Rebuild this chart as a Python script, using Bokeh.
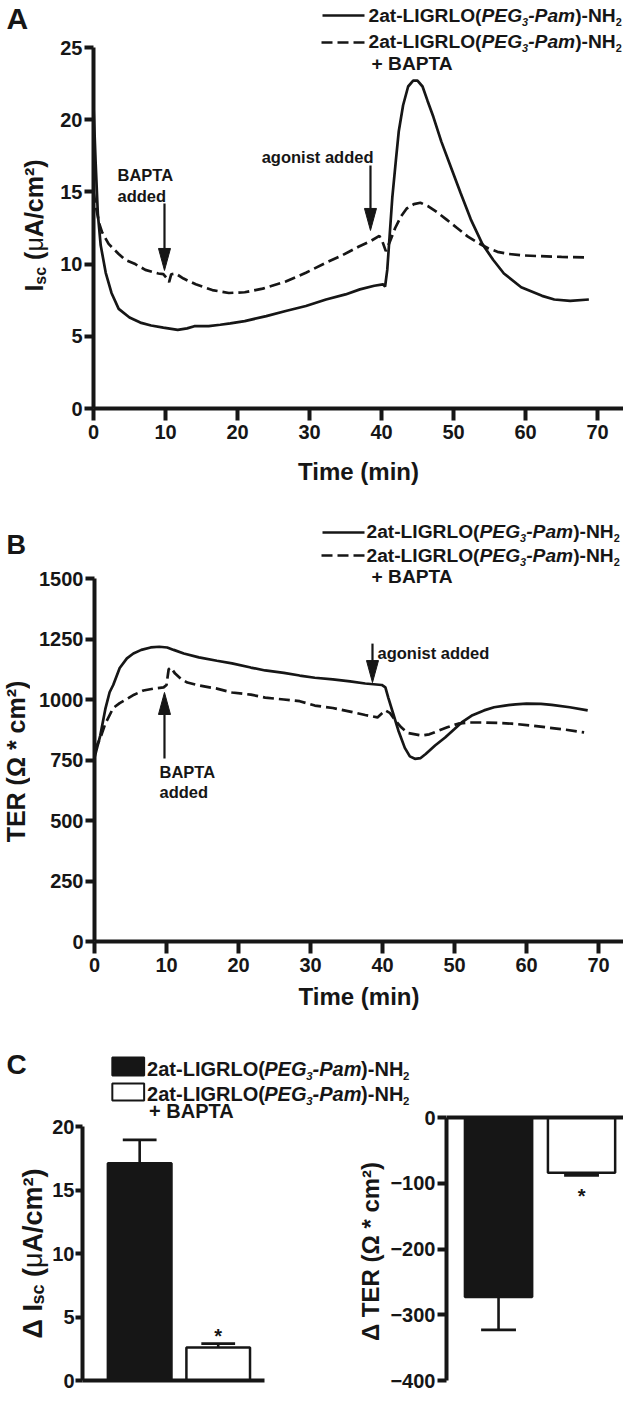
import math
from bokeh.plotting import figure
from bokeh.layouts import column, row
from bokeh.models import Label, FixedTicker
from bokeh.embed import file_html
from bokeh.resources import INLINE

# ---------------- data ----------------
time_ticks = [0, 10, 20, 30, 40, 50, 60, 70]
isc_ticks = [0, 5, 10, 15, 20, 25]
ter_ticks = [0, 250, 500, 750, 1000, 1250, 1500]
d_isc_ticks = [0, 5, 10, 15, 20]
d_ter_ticks = [0, -100, -200, -300, -400]

# Panel A: Isc (uA/cm2) vs time (min)
a_t_ctrl = [0.0, 0.3, 0.6, 1.0, 1.7, 2.5, 3.5, 5.0, 6.5, 8.0, 9.7, 11.7, 13.0, 14.0, 16.0,
            17.6, 19.0, 21.0, 24.0, 26.7, 29.5, 32.3, 35.0, 37.0, 39.0, 40.2, 40.5, 40.8,
            41.5, 42.0, 42.4, 43.0, 43.7, 44.4, 45.0, 45.7, 46.4, 47.2, 48.3, 49.5, 51.0,
            52.4, 54.0, 55.5, 57.0, 59.4, 62.3, 64.0, 66.2, 68.8]
a_isc_ctrl = [21.0, 17.0, 13.5, 11.3, 9.4, 8.0, 6.9, 6.3, 5.95, 5.75, 5.6, 5.45, 5.55, 5.7, 5.7,
              5.8, 5.9, 6.05, 6.4, 6.75, 7.1, 7.55, 7.9, 8.25, 8.5, 8.6, 8.45, 9.6,
              14.6, 17.2, 19.2, 21.0, 22.3, 22.7, 22.7, 22.3, 21.3, 20.2, 18.5, 16.9, 14.9,
              13.1, 11.4, 10.3, 9.35, 8.4, 7.8, 7.55, 7.45, 7.55]
a_t_bapta = [0.0, 0.4, 0.8, 1.2, 2.1, 3.5, 4.4, 5.8, 7.2, 9.0, 9.7, 10.2, 10.5, 10.8, 11.4,
             12.5, 14.2, 16.5, 18.8, 21.0, 23.5, 26.7, 29.5, 32.3, 34.5, 36.8, 38.5, 39.7,
             40.1, 40.6, 41.2, 41.9, 42.7, 43.5, 44.5, 45.4, 46.5, 47.7, 49.0, 50.5, 52.0,
             53.3, 54.8, 56.1, 57.7, 59.7, 62.0, 65.0, 68.8]
a_isc_bapta = [15.0, 13.8, 12.8, 12.2, 11.4, 10.7, 10.3, 10.0, 9.6, 9.35, 9.3, 9.0, 8.75, 9.3, 9.35,
               9.0, 8.6, 8.2, 8.0, 8.05, 8.3, 8.8, 9.4, 10.1, 10.6, 11.2, 11.6, 11.95,
               11.6, 10.9, 11.6, 12.5, 13.3, 13.85, 14.15, 14.25, 14.0, 13.6, 13.1, 12.5, 11.9,
               11.5, 11.1, 10.85, 10.7, 10.6, 10.55, 10.5, 10.45]

# Panel B: TER (Ohm*cm2) vs time (min)
b_t_ctrl = [0.0, 0.8, 1.5, 2.1, 2.6, 3.5, 4.5, 5.4, 6.5, 7.8, 9.0, 10.1, 11.0, 12.4, 14.5,
            17.0, 19.1, 21.7, 23.7, 26.3, 28.5, 30.6, 33.1, 35.5, 37.6, 39.9, 40.4, 40.8,
            41.5, 42.2, 43.1, 43.8, 44.5, 45.3, 46.0, 47.3, 48.7, 50.0, 51.0, 52.5, 54.1,
            55.5, 57.0, 58.5, 60.0, 62.0, 63.5, 66.0, 68.5]
b_ter_ctrl = [760, 851, 960, 1030, 1060, 1130, 1170, 1190, 1205, 1215, 1218, 1215, 1205, 1190, 1174,
              1160, 1149, 1132, 1120, 1110, 1099, 1090, 1083, 1075, 1066, 1060, 1050, 1008,
              940, 872, 800, 765, 755, 758, 775, 810, 843, 878, 905, 935, 955,
              968, 975, 980, 983, 982, 978, 968, 955]
b_t_bapta = [0.0, 0.8, 1.5, 2.6, 3.5, 4.6, 5.5, 6.8, 8.2, 9.6, 10.0, 10.3, 10.6, 11.2, 12.0,
             12.9, 14.5, 17.0, 19.1, 21.7, 23.7, 26.3, 28.5, 30.6, 33.1, 35.5, 37.6, 39.3,
             40.4, 41.0, 41.8, 42.6, 43.5, 45.4, 46.5, 47.7, 49.0, 50.5, 52.0, 54.0, 56.0,
             58.0, 60.5, 63.0, 65.5, 68.0]
b_ter_bapta = [790, 840, 900, 965, 985, 1004, 1020, 1037, 1045, 1050, 1060, 1125, 1132, 1107, 1085,
               1070, 1058, 1045, 1029, 1020, 1008, 1000, 993, 975, 965, 950, 936, 926,
               955, 945, 913, 885, 862, 851, 856, 870, 885, 900, 905, 905, 903,
               900, 893, 884, 875, 864]

# Panel C: mean change (+ SEM)
c_pos = [1, 2]
c_d_isc = [17.1, 2.6]
c_d_isc_sem = [1.85, 0.3]
c_d_ter = [-273.0, -84.0]
c_d_ter_sem = [50.0, 4.0]

# ---------------- styling helpers ----------------
FONT = "Liberation Sans"
INK = "#161616"

W = {' ': 278, '(': 333, ')': 333, '*': 389, '+': 584, '-': 333, '/': 278, 'A': 722, 'B': 722,
     'C': 722, 'E': 667, 'G': 778, 'H': 722, 'I': 278, 'L': 611, 'N': 722, 'O': 778, 'P': 667,
     'R': 722, 'T': 611, 'a': 556, 'c': 556, 'd': 611, 'e': 556, 'g': 611, 'i': 278, 'm': 889,
     'n': 611, 'o': 611, 's': 556, 't': 333, '\u00b2': 333, '\u03bc': 576, '\u0394': 700}
for _d in "0123456789":
    W[_d] = 556


def text_w(s, size):
    return sum(W.get(c, 600) for c in s) * size / 1000.0


def put_text(p, fx, fy, px, py, parts, angle=0.0):
    """Run of text pieces; (px, py) = start of the run at the visual centre of the capitals."""
    adv = 0.0
    for txt, size, style, shift in parts:
        core = txt.lstrip(" ")
        adv += text_w(txt[:len(txt) - len(core)], size)   # leading blanks only advance
        if angle == 0.0:
            x, y = px + adv, py + shift
        else:
            x, y = px + shift, py - adv
        p.add_layout(Label(x=fx(x), y=fy(y), text=core, angle=angle, text_align="left",
                           text_baseline="middle", text_font=FONT,
                           text_font_size="%.1fpx" % size, text_font_style=style,
                           text_color=INK))
        adv += text_w(core, size)
    return adv


def legend_parts(f):
    s = 0.57 * f
    d = 0.34 * f
    return [("2at-LIGRLO(", f, "bold", 0), ("PEG", f, "bold italic", 0),
            ("3", s, "bold italic", d), ("-Pam", f, "bold italic", 0),
            (")-NH", f, "bold", 0), ("2", s, "bold", d)]


def make_fig(canvas, frame, fx, fy, axes=True, **kw):
    cl, ct, cw, ch = canvas
    fl, ft, fr, fb = frame
    extra = {} if axes else dict(x_axis_location=None, y_axis_location=None)
    extra.update(kw)
    p = figure(width=cw, height=ch, title=None,
               x_range=(fx(fl), fx(fr)), y_range=(fy(fb), fy(ft)),
               min_border_left=fl - cl, min_border_right=cl + cw - fr,
               min_border_top=ft - ct, min_border_bottom=ct + ch - fb,
               output_backend="svg", toolbar_location=None, tools="", **extra)
    p.outline_line_color = None
    p.xgrid.visible = False
    p.ygrid.visible = False
    p.background_fill_color = "white"
    p.border_fill_color = "white"
    return p


def style_axis(ax, ticks, bounds, tick_out, standoff):
    ax.ticker = FixedTicker(ticks=ticks)
    ax.bounds = bounds
    ax.axis_line_width = 4
    ax.axis_line_color = INK
    ax.major_tick_line_width = 4
    ax.major_tick_line_color = INK
    ax.major_tick_in = 0
    ax.major_tick_out = tick_out
    ax.minor_tick_line_color = None
    ax.major_label_text_font = FONT
    ax.major_label_text_font_style = "bold"
    ax.major_label_text_font_size = "20px"
    ax.major_label_text_color = INK
    ax.major_label_standoff = standoff


def axis_title(ax, text, size, standoff):
    ax.axis_label = text
    ax.axis_label_text_font = FONT
    ax.axis_label_text_font_style = "bold"
    ax.axis_label_text_font_size = size
    ax.axis_label_text_color = INK
    ax.axis_label_standoff = standoff


def draw_arrow(p, x, y_from, y_to, sx, sy):
    direction = 1.0 if y_to > y_from else -1.0
    hl = 22.0 / sy
    hw = 6.0 / sx
    base = y_to - direction * hl
    p.segment(x0=[x], y0=[y_from], x1=[x], y1=[base], line_width=2.2, line_color=INK)
    p.patch(x=[x - hw, x, x + hw], y=[base, y_to, base], fill_color=INK, line_color=INK,
            line_width=1)


def plain(p, x, y, txt, size, align="left", angle=0.0):
    p.add_layout(Label(x=x, y=y, text=txt, text_align=align, text_baseline="middle",
                       angle=angle, text_font=FONT, text_font_size=size,
                       text_font_style="bold", text_color=INK))


ident = lambda v: v

# ---------------- Panel A ----------------
A_SX, A_SY = 7.2, 14.44
ax_ = lambda px: (px - 93) / A_SX
ay_ = lambda py: (408 - py) / A_SY
sa = make_fig((0, 0, 50, 490), (0, 0, 50, 408), ident, ident, axes=False)
pa = make_fig((50, 0, 573, 490), (93, 0, 623, 408), ax_, ay_)
style_axis(pa.xaxis[0], time_ticks, (0, ax_(623)), 12, 4)
style_axis(pa.yaxis[0], isc_ticks, (0, 25), 9, 2)
axis_title(pa.xaxis[0], "Time (min)", "24px", 16)
pa.line(a_t_ctrl, a_isc_ctrl, line_width=2.7, line_color=INK)
pa.line(a_t_bapta, a_isc_bapta, line_width=2.7, line_color=INK, line_dash="11 5")
draw_arrow(pa, 9.86, 14.2, 9.56, A_SX, A_SY)
plain(pa, ax_(117), ay_(174), "BAPTA", "16.5px")
plain(pa, ax_(117), ay_(195), "added", "16.5px")
draw_arrow(pa, 38.47, 16.83, 12.33, A_SX, A_SY)
plain(pa, ax_(373), ay_(156.7), "agonist added", "16.5px", align="right")
pa.line([ax_(322), ax_(364)], [ay_(15)] * 2, line_width=2.7, line_color=INK)
pa.line([ax_(321), ax_(364)], [ay_(42)] * 2, line_width=2.7, line_color=INK, line_dash="11 5")
put_text(pa, ax_, ay_, 368, 15.0, legend_parts(19.2))
put_text(pa, ax_, ay_, 368, 40.5, legend_parts(19.2))
put_text(pa, ax_, ay_, 371, 62.5, [("+ BAPTA", 19.2, "bold", 0)])
plain(sa, 6, 18, "A", "30px")
a_lab = [("I", 25, "bold", 0), ("sc", 16, "bold", 7), (" (", 25, "bold", 0),
         ("\u03bc", 25, "normal", 0), ("A/cm\u00b2)", 25, "bold", 0)]
a_len = sum(text_w(t, s) for t, s, _, _ in a_lab)
put_text(sa, ident, ident, 33, 225 + a_len / 2, a_lab, angle=math.pi / 2)

# ---------------- Panel B ----------------
B_SX, B_SY = 7.2, 0.242
bx_ = lambda px: (px - 94) / B_SX
by_ = lambda py: (941 - py) / B_SY
sb = make_fig((0, 490, 30, 540), (0, 490, 30, 941), ident, ident, axes=False)
pb = make_fig((30, 490, 593, 540), (94, 490, 623, 941), bx_, by_)
style_axis(pb.xaxis[0], time_ticks, (0, bx_(623)), 12, 4)
style_axis(pb.yaxis[0], ter_ticks, (0, 1500), 9, 2)
axis_title(pb.xaxis[0], "Time (min)", "24px", 8)
pb.line(b_t_ctrl, b_ter_ctrl, line_width=2.7, line_color=INK)
pb.line(b_t_bapta, b_ter_bapta, line_width=2.7, line_color=INK, line_dash="11 5")
draw_arrow(pb, 9.72, 756, 1029, B_SX, B_SY)
plain(pb, bx_(159), by_(771.5), "BAPTA", "16.5px")
plain(pb, bx_(159), by_(791.5), "added", "16.5px")
draw_arrow(pb, 38.61, 1231, 1070, B_SX, B_SY)
plain(pb, bx_(377), by_(652.5), "agonist added", "16.5px")
pb.line([bx_(322), bx_(364)], [by_(532)] * 2, line_width=2.7, line_color=INK)
pb.line([bx_(321), bx_(364)], [by_(555)] * 2, line_width=2.7, line_color=INK, line_dash="11 5")
put_text(pb, bx_, by_, 366, 530.5, legend_parts(19.2))
put_text(pb, bx_, by_, 366, 554.5, legend_parts(19.2))
put_text(pb, bx_, by_, 371, 576, [("+ BAPTA", 19.2, "bold", 0)])
plain(sb, 6, 544, "B", "27px")
plain(sb, 15, 761, "TER (\u03a9 * cm\u00b2)", "25px", align="center", angle=math.pi / 2)

# ---------------- Panel C (left) ----------------
C_LSY = 12.7
cx_ = lambda px: 0.272 + (px - 80) / 79.0
cy_ = lambda py: (1380 - py) / C_LSY
sc = make_fig((0, 1030, 49, 360), (0, 1030, 49, 1380), ident, ident, axes=False)
pcl = make_fig((49, 1030, 374, 360), (80, 1030, 423, 1380), cx_, cy_)
style_axis(pcl.xaxis[0], [], (cx_(80), cx_(263)), 0, 0)
style_axis(pcl.yaxis[0], d_isc_ticks, (0, 20), 7, 1)
pcl.vbar(x=c_pos, width=0.81, top=c_d_isc, bottom=0, fill_color=[INK, "white"],
         line_color=INK, line_width=2.5)
isc_err = [v + s for v, s in zip(c_d_isc, c_d_isc_sem)]
pcl.segment(x0=c_pos, y0=c_d_isc, x1=c_pos, y1=isc_err, line_width=2.6, line_color=INK)
pcl.segment(x0=[x - 0.215 for x in c_pos], y0=isc_err, x1=[x + 0.215 for x in c_pos],
            y1=isc_err, line_width=2.6, line_color=INK)
# significance mark: 12 px above the error cap (asterisk glyph sits ~4.6 px above its anchor)
plain(pcl, c_pos[1], isc_err[1] + (12 - 4.6) / C_LSY, "*", "20px", align="center")
pcl.rect(x=[cx_(126)] * 2, y=[cy_(1066), cy_(1091.5)], width=32 / 79.0,
         height=[18 / C_LSY, 17 / C_LSY], fill_color=[INK, "white"], line_color=INK,
         line_width=2)
put_text(pcl, cx_, cy_, 145, 1068.5, legend_parts(20))
put_text(pcl, cx_, cy_, 145, 1093.5, legend_parts(20))
put_text(pcl, cx_, cy_, 147, 1110, [("+ BAPTA", 20, "bold", 0)])
plain(sc, 6, 1064, "C", "28px")
c_lab = [("\u0394 I", 27, "bold", 0), ("sc", 18, "bold", 5), (" (", 27, "bold", 0),
         ("\u03bc", 27, "normal", 0), ("A/cm\u00b2)", 27, "bold", 0)]
c_len = sum(text_w(t, s) for t, s, _, _ in c_lab)
put_text(sc, ident, ident, 32, 1253 + c_len / 2, c_lab, angle=math.pi / 2)
# y title of the right-hand chart (sits in the shared space left of its axis)
plain(pcl, cx_(370), cy_(1251), "\u0394 TER (\u03a9 * cm\u00b2)", "24px", align="center",
      angle=math.pi / 2)

# ---------------- Panel C (right) ----------------
C_RSY = 0.6575
rx_ = lambda px: 0.373 + (px - 446) / 83.0
ry_ = lambda py: (1117 - py) / C_RSY
pcr = make_fig((348, 1030, 275, 360), (446, 1030, 623, 1380), rx_, ry_,
               margin=(0, 0, 0, -75))
pcr.background_fill_alpha = 0
pcr.border_fill_alpha = 0
style_axis(pcr.xaxis[0], [], (rx_(446), rx_(623)), 0, 0)
pcr.xaxis[0].fixed_location = 0
style_axis(pcr.yaxis[0], d_ter_ticks, (-400, 0), 9, 2)
pcr.vbar(x=c_pos, width=0.81, top=0, bottom=c_d_ter, fill_color=[INK, "white"],
         line_color=INK, line_width=2.5)
ter_err = [v - s for v, s in zip(c_d_ter, c_d_ter_sem)]
pcr.segment(x0=c_pos, y0=c_d_ter, x1=c_pos, y1=ter_err, line_width=2.6, line_color=INK)
pcr.segment(x0=[x - 0.21 for x in c_pos], y0=ter_err, x1=[x + 0.21 for x in c_pos],
            y1=ter_err, line_width=2.6, line_color=INK)
plain(pcr, c_pos[1], ter_err[1] - (16 + 4.6) / C_RSY, "*", "20px", align="center")

layout = column(row(sa, pa), row(sb, pb), row(sc, pcl, pcr))
open("out.html", "w").write(file_html(layout, INLINE))
